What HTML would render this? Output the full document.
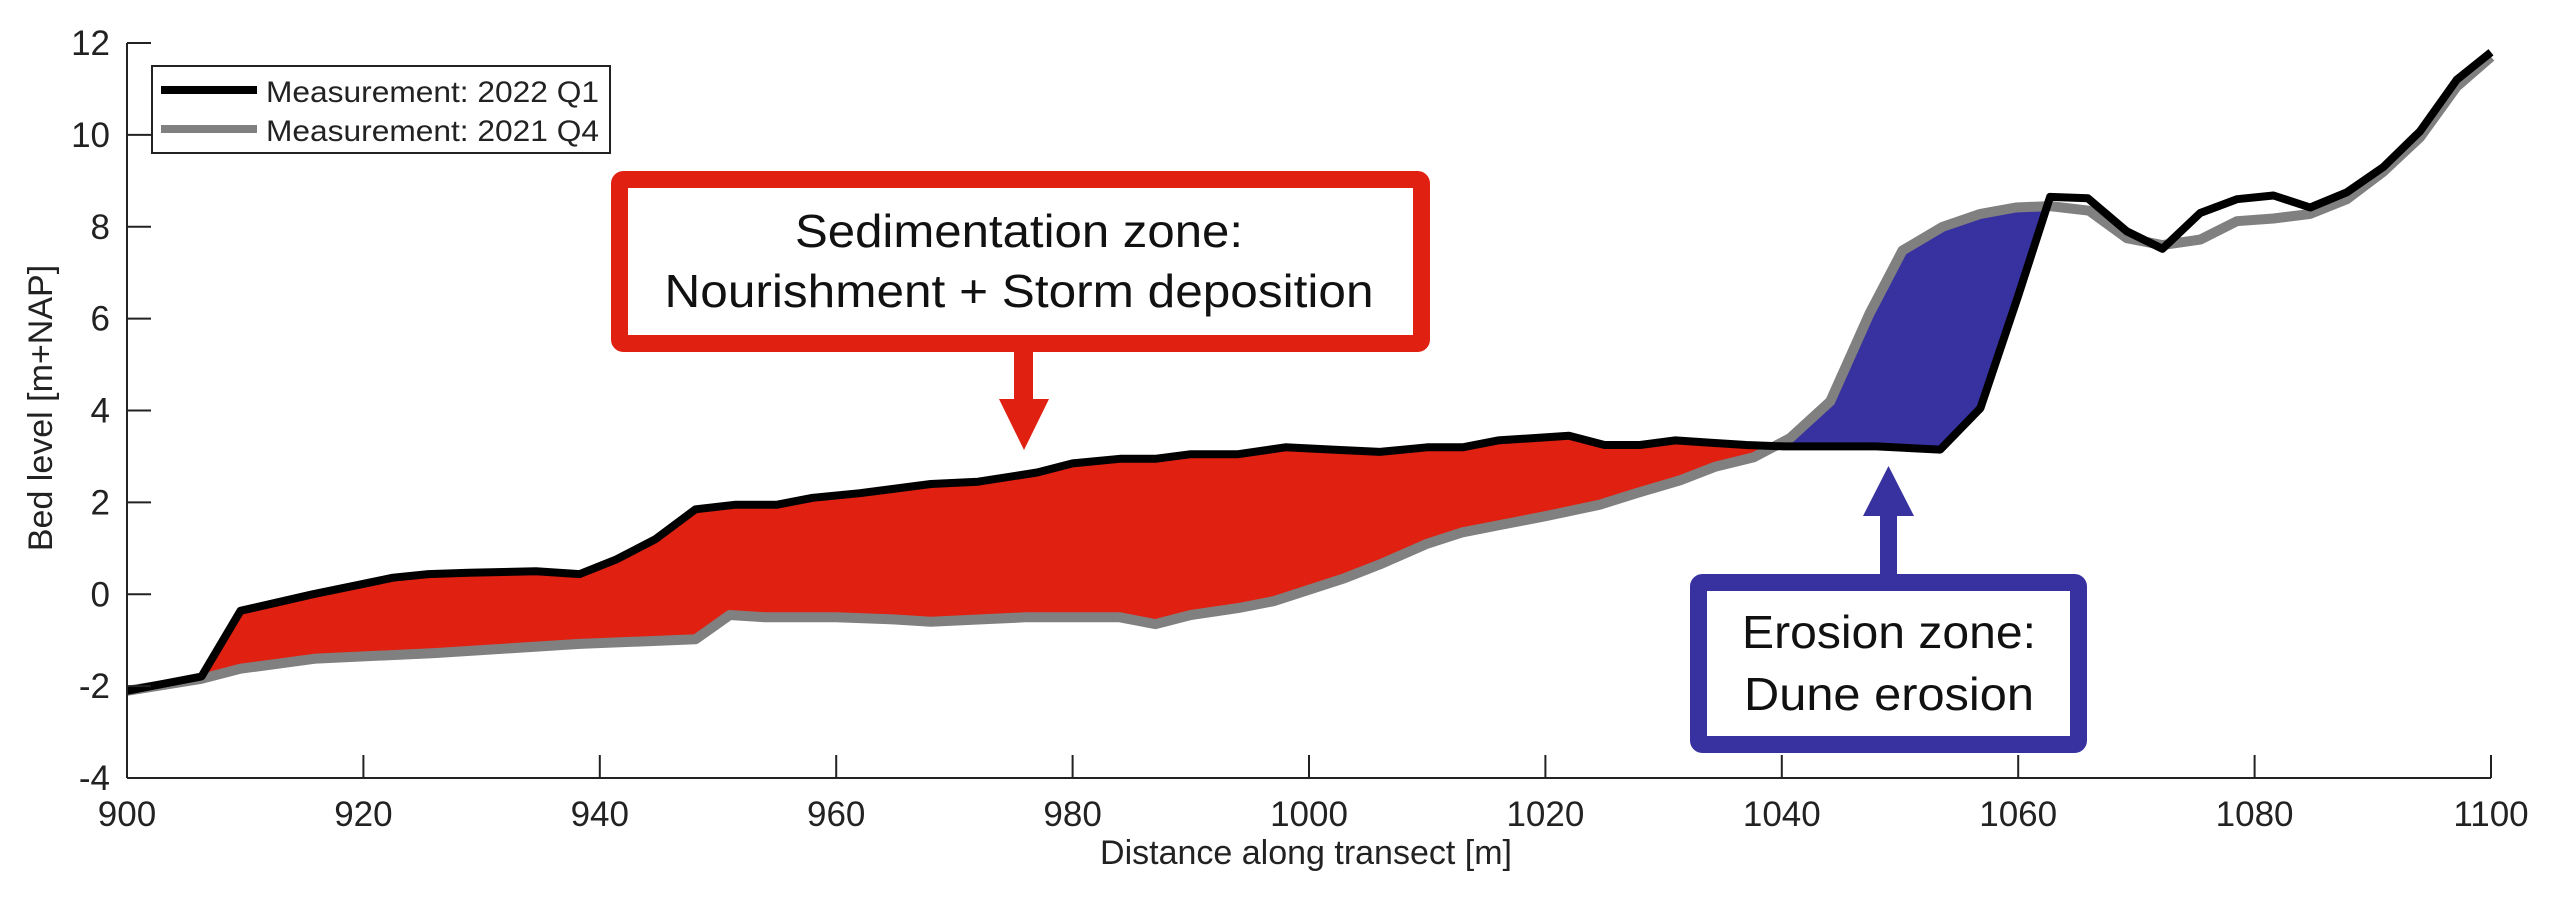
<!DOCTYPE html>
<html><head><meta charset="utf-8"><style>
html,body{margin:0;padding:0;background:#fff;}
svg{display:block;}
text{font-family:"Liberation Sans",Arial,sans-serif;fill:#222;}
</style></head><body>
<svg id="s" width="2560" height="914" viewBox="0 0 2560 914" xmlns="http://www.w3.org/2000/svg">
<rect width="2560" height="914" fill="#fff"/>
<g id="plot"></g>
<!-- axes -->
<line x1="127" y1="43" x2="127" y2="778" stroke="#222" stroke-width="2"/>
<line x1="127" y1="778" x2="2491" y2="778" stroke="#222" stroke-width="2"/>
<g id="ticks" stroke="#222" stroke-width="2"></g>
<g id="labels" font-size="35" fill="#222"></g>
<text x="1306" y="864" font-size="34" text-anchor="middle">Distance along transect [m]</text>
<text transform="translate(52,408) rotate(-90)" font-size="34" text-anchor="middle">Bed level [m+NAP]</text>
<!-- legend -->
<rect x="152" y="66" width="458" height="87" fill="#fff" stroke="#222" stroke-width="2"/>
<line x1="161" y1="90" x2="257" y2="90" stroke="#000" stroke-width="8"/>
<line x1="161" y1="129" x2="257" y2="129" stroke="#808080" stroke-width="8"/>
<text x="266" y="102" font-size="30" textLength="333" lengthAdjust="spacingAndGlyphs">Measurement: 2022 Q1</text>
<text x="266" y="141" font-size="30" textLength="333" lengthAdjust="spacingAndGlyphs">Measurement: 2021 Q4</text>
<!-- red box -->
<rect x="619.5" y="179.5" width="802" height="164" rx="4" fill="#fff" stroke="#e02010" stroke-width="17"/>
<text x="1019" y="247" font-size="46" text-anchor="middle" textLength="448" lengthAdjust="spacingAndGlyphs" style="fill:#111">Sedimentation zone:</text>
<text x="1019" y="307" font-size="46" text-anchor="middle" textLength="709" lengthAdjust="spacingAndGlyphs" style="fill:#111">Nourishment + Storm deposition</text>
<rect x="1014" y="350" width="19" height="52" fill="#e02010"/>
<polygon points="999,399 1049,399 1024,450" fill="#e02010"/>
<!-- blue box -->
<rect x="1698.5" y="582.5" width="380" height="162" rx="4" fill="#fff" stroke="#3832a0" stroke-width="17"/>
<text x="1889" y="648" font-size="46" text-anchor="middle" textLength="294" lengthAdjust="spacingAndGlyphs" style="fill:#111">Erosion zone:</text>
<text x="1889" y="710" font-size="46" text-anchor="middle" textLength="290" lengthAdjust="spacingAndGlyphs" style="fill:#111">Dune erosion</text>
<rect x="1880" y="512" width="17" height="66" fill="#3832a0"/>
<polygon points="1863,516 1914,516 1888.5,466" fill="#3832a0"/>
</svg>
<script>
var X=function(m){return 127+(m-900)*11.82;}, Y=function(v){return 43+(12-v)*45.94;};
var blk=[[900,-2.1],[906.3,-1.79],[909.6,-0.36],[915.7,0],[919.5,0.2],[922.5,0.36],[925.5,0.44],[928.9,0.47],[934.6,0.5],[938.3,0.44],[941.4,0.76],[944.7,1.2],[948.1,1.85],[951.5,1.95],[955,1.95],[958,2.1],[962,2.2],[968,2.4],[972,2.45],[977,2.65],[980,2.85],[984,2.95],[987,2.95],[990,3.05],[994,3.05],[998,3.2],[1002,3.15],[1006,3.1],[1010,3.2],[1013,3.2],[1016,3.35],[1019,3.4],[1022,3.45],[1025,3.25],[1028,3.25],[1031,3.35],[1034,3.3],[1037,3.25],[1040.2,3.22],[1048,3.22],[1053.4,3.15],[1056.8,4.05],[1060,6.5],[1062.7,8.65],[1065.9,8.62],[1069.2,7.9],[1072.2,7.52],[1075.4,8.3],[1078.5,8.6],[1081.6,8.68],[1084.7,8.42],[1087.8,8.75],[1090.9,9.3],[1094,10.08],[1097.1,11.2],[1100,11.8]];
var gry=[[900,-2.1],[906.3,-1.84],[909.6,-1.62],[916,-1.4],[926,-1.28],[938.3,-1.08],[948.1,-0.98],[951,-0.45],[954,-0.5],[960,-0.5],[965,-0.55],[968,-0.6],[972,-0.55],[976,-0.5],[980,-0.5],[984,-0.5],[987,-0.65],[990,-0.45],[994,-0.3],[997,-0.15],[1000,0.1],[1003,0.35],[1006,0.65],[1010,1.1],[1013,1.35],[1016,1.5],[1020,1.7],[1024.6,1.95],[1027.7,2.2],[1031.4,2.48],[1034.4,2.78],[1037.6,2.98],[1040.7,3.4],[1044.1,4.2],[1047.4,6.1],[1050.2,7.48],[1053.6,8.0],[1056.8,8.28],[1059.8,8.42],[1062.7,8.45],[1066,8.35],[1069.2,7.75],[1072.2,7.6],[1075.4,7.72],[1078.5,8.12],[1081.6,8.18],[1084.7,8.28],[1087.8,8.6],[1090.9,9.2],[1094,9.95],[1097.1,11.05],[1100,11.7]];
function seg(a,lo,hi){return a.filter(function(p){return p[0]>=lo&&p[0]<=hi;});}
function pts(a){return a.map(function(p){return X(p[0]).toFixed(1)+","+Y(p[1]).toFixed(1);}).join(" ");}
var ns="http://www.w3.org/2000/svg",g=document.getElementById("plot");
function el(t,at){var e=document.createElementNS(ns,t);for(var k in at)e.setAttribute(k,at[k]);g.appendChild(e);return e;}
// red fill
var r1=seg(blk,906.3,1040.2),r2=seg(gry,906.3,1040.2).reverse();
el("polygon",{points:pts(r1.concat([[1040.5,3.25]]).concat(r2)),fill:"#e02010"});
var b1=seg(gry,1040.7,1062.7),b2=seg(blk,1040.2,1062.7).reverse();
el("polygon",{points:pts([[1040.3,3.25]].concat(b1).concat(b2)),fill:"#3832a0"});
el("polyline",{points:pts(gry),fill:"none",stroke:"#808080","stroke-width":10,"stroke-linejoin":"round"});
el("polyline",{points:pts(blk),fill:"none",stroke:"#000","stroke-width":8,"stroke-linejoin":"round"});
var tk=document.getElementById("ticks"),lb=document.getElementById("labels");
function add(par,t,at,txt){var e=document.createElementNS(ns,t);for(var k in at)e.setAttribute(k,at[k]);if(txt!==undefined)e.textContent=txt;par.appendChild(e);}
for(var v=-4;v<=12;v+=2){var y=Y(v);add(tk,"line",{x1:127,y1:y,x2:151,y2:y});add(lb,"text",{x:110,y:y+12,"text-anchor":"end"},String(v).replace("-","-"));}
for(var m=900;m<=1100;m+=20){var x=X(m);add(tk,"line",{x1:x,y1:778,x2:x,y2:755});add(lb,"text",{x:x,y:826,"text-anchor":"middle"},String(m));}
</script>
</body></html>
